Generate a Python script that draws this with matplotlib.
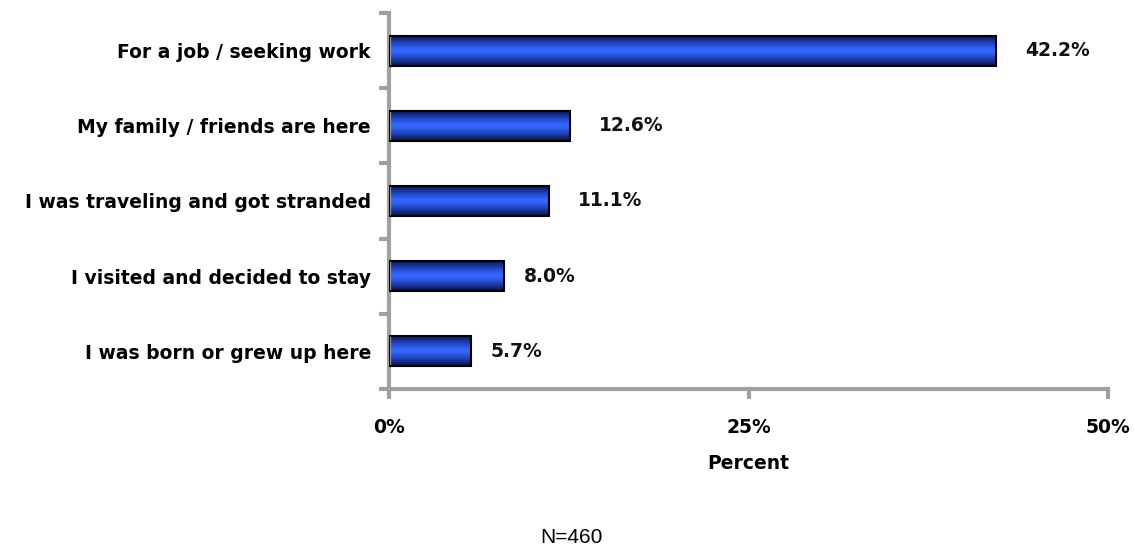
import matplotlib
matplotlib.use("Agg")
import matplotlib.pyplot as plt
import numpy as np
from matplotlib.colors import LinearSegmentedColormap
from matplotlib.transforms import offset_copy

categories = ["For a job / seeking work", "My family / friends are here",
              "I was traveling and got stranded", "I visited and decided to stay",
              "I was born or grew up here"]
values = [42.2, 12.6, 11.1, 8.0, 5.7]
xticks = [0, 25, 50]
xtick_labels = ["0%", "25%", "50%"]

FS = 13.5
fig = plt.figure(figsize=(11.35, 5.49), dpi=100)
ax = fig.add_axes([389/1135, 1-389/549, (1108-389)/1135, (389-13)/549])

n = len(categories)
ypos = np.arange(n)[::-1]
h = 0.4
cmap = LinearSegmentedColormap.from_list(
    "g", [(0, "#081040"), (0.2, "#1a3aa8"), (0.45, "#3366ff"), (0.55, "#3366ff"),
          (0.8, "#1a3aa8"), (1, "#081040")])
grad = np.linspace(0, 1, 64).reshape(-1, 1)
for y, v in zip(ypos, values):
    ax.imshow(grad, aspect="auto", cmap=cmap, extent=[0, v, y - h/2, y + h/2],
              interpolation="bilinear", zorder=2)
    ax.barh(y, v, height=h, facecolor="none", edgecolor="black", linewidth=1.5, zorder=3)
    lab = f"{v:.1f}%"
    off = 20 + (len(lab) - 4) * 9
    tr = offset_copy(ax.transData, fig=fig, x=off * 0.72, y=0, units="points")
    ax.text(v, y, lab, va="center", ha="left", fontsize=FS,
            fontweight="bold", color="#111111", transform=tr)

ax.set_xlim(0, 50)
ax.set_ylim(-0.5, n - 0.5)
ax.set_xticks(xticks)
ax.set_xticklabels(xtick_labels, fontsize=FS, fontweight="bold")
ax.set_yticks(np.arange(-0.5, n, 1.0))
ax.set_yticklabels([])
ax.set_yticks(ypos, minor=True)
ax.set_yticklabels(categories, minor=True, fontsize=FS, fontweight="bold")
ax.tick_params(axis="y", which="minor", length=0, pad=13)
ax.tick_params(axis="y", which="major", length=7, width=3, color="#a0a0a0", direction="out")
ax.tick_params(axis="x", length=7, width=3, color="#a0a0a0", direction="out", pad=14)
for s in ["top", "right"]:
    ax.spines[s].set_visible(False)
for s in ["left", "bottom"]:
    ax.spines[s].set_color("#a0a0a0")
    ax.spines[s].set_linewidth(3)
ax.set_xlabel("Percent", fontsize=FS, fontweight="bold", labelpad=12)
fig.text(571/1135, 2/549, "N=460", ha="center", va="bottom", fontsize=15,
         fontfamily="Liberation Sans")
fig.savefig("out.png", dpi=100)
